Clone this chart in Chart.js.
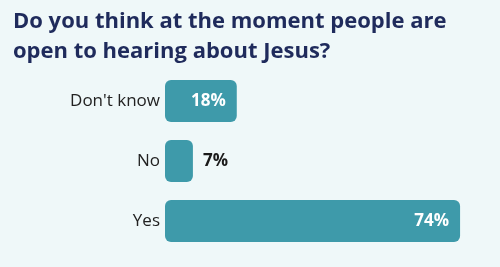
<!DOCTYPE html>
<html>
<head>
<meta charset="utf-8">
<script src="https://cdn.jsdelivr.net/npm/chart.js@4"></script>
<style>
  html, body { margin: 0; padding: 0; background: #eff8f9; }
  #wrap { width: 500px; height: 267px; }
</style>
</head>
<body>
<div id="wrap"><canvas id="chart" width="500" height="267"></canvas></div>
<script>
// Chart data
const categories = ["Don't know", 'No', 'Yes'];
const percentages = [18, 7, 74];
const titleLines = ['Do you think at the moment people are', 'open to hearing about Jesus?'];

const barColor = '#3e9aaa';
const navy = '#1f2b5c';

// Draw the % labels, inside the bar when there is room, otherwise after it
const valueLabels = {
    id: 'valueLabels',
    afterDatasetsDraw(chart) {
        const ctx = chart.ctx;
        const meta = chart.getDatasetMeta(0);
        ctx.save();
        ctx.font = 'bold 17px "Open Sans"';
        ctx.textBaseline = 'middle';
        meta.data.forEach((bar, i) => {
            const v = percentages[i];
            const text = v + '%';
            if (v < 10) {
                ctx.fillStyle = '#1a1a1a';
                ctx.textAlign = 'left';
                ctx.fillText(text, bar.x + 10, bar.y);
            } else {
                ctx.fillStyle = '#ffffff';
                ctx.textAlign = 'right';
                ctx.fillText(text, bar.x - 11, bar.y);
            }
        });
        ctx.restore();
    }
};

new Chart(document.getElementById('chart'), {
    type: 'bar',
    data: {
        labels: categories,
        datasets: [{
            data: percentages,
            backgroundColor: barColor,
            borderRadius: 6,
            borderSkipped: false,
            barPercentage: 0.7,
            categoryPercentage: 1
        }]
    },
    options: {
        indexAxis: 'y',
        responsive: false,
        animation: false,
        layout: { padding: { top: 7, bottom: 16, left: 13, right: 16 } },
        scales: {
            x: { display: false, min: 0, max: 80 },
            y: {
                afterFit(scale) { scale.width = 152; },
                grid: { display: false, drawTicks: false },
                border: { display: false },
                ticks: {
                    color: '#222',
                    padding: 5,
                    font: { family: 'Open Sans', size: 17 }
                }
            }
        },
        plugins: {
            legend: { display: false },
            tooltip: { enabled: false },
            title: {
                display: true,
                text: titleLines,
                align: 'start',
                color: navy,
                font: { family: 'Open Sans', size: 22, weight: 'bold', lineHeight: 30 / 22 },
                padding: { top: 0, bottom: 4 }
            }
        }
    },
    plugins: [valueLabels]
});
</script>
</body>
</html>
